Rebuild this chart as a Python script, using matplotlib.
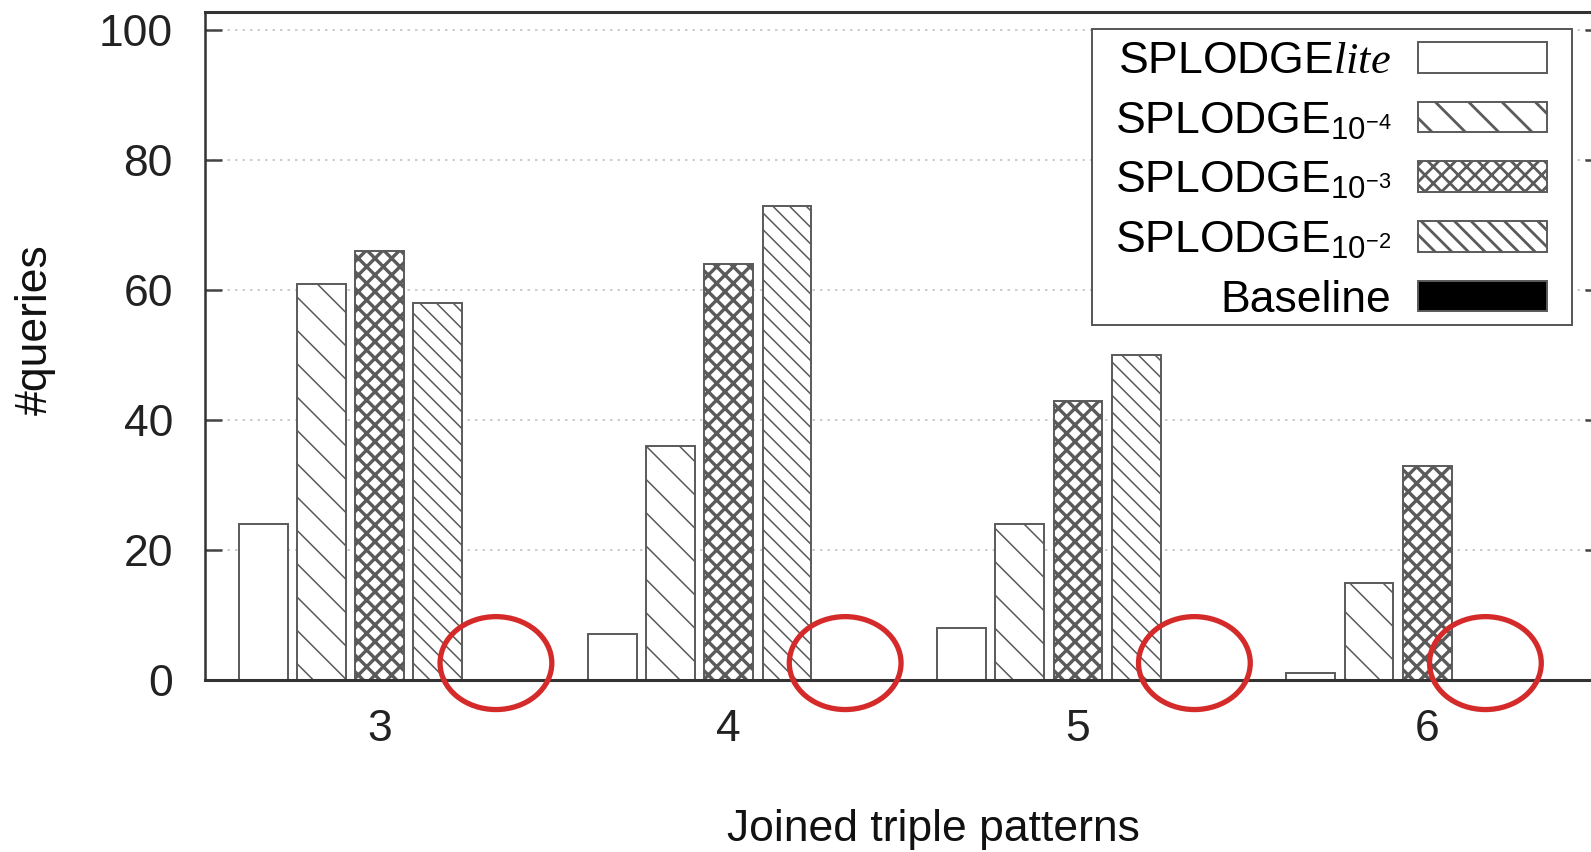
import numpy as np
import matplotlib
matplotlib.use("Agg")
import matplotlib.pyplot as plt
from matplotlib.patches import Ellipse, Rectangle

# ---- data ----
groups = [3, 4, 5, 6]                      # joined triple patterns
labels = ["SPLODGE$\\mathit{lite}$",
          "SPLODGE$_{10^{-4}}$",
          "SPLODGE$_{10^{-3}}$",
          "SPLODGE$_{10^{-2}}$",
          "Baseline"]
lite = [24, 7, 8, 1]
splodge_1e4 = [61, 36, 24, 15]
splodge_1e3 = [66, 64, 43, 33]
splodge_1e2 = [58, 73, 50, 0]
baseline = [0, 0, 0, 0]
circled = [4, 4, 4, 3]                     # series slot marked with a red ring per group
yticks = [0, 20, 40, 60, 80, 100]

series = [lite, splodge_1e4, splodge_1e3, splodge_1e2, baseline]
hatches = ["", "\\\\", "xxxx", "\\\\\\\\", ""]
faces = ["white", "white", "white", "white", "black"]
hatch_lw = [0.5, 0.55, 1.2, 0.55, 0.5]

plt.rcParams["font.family"] = ["Liberation Sans", "DejaVu Sans"]
plt.rcParams["mathtext.fontset"] = "custom"
plt.rcParams["mathtext.rm"] = "Liberation Sans"
plt.rcParams["mathtext.it"] = "Liberation Serif:italic"
plt.rcParams["mathtext.bf"] = "Liberation Sans:bold"
FS = 16
W, H = 1591, 852                           # output size in pixels

# dpi 200 so the hatch patterns come out as coarse as gnuplot's
fig = plt.figure(figsize=(W / 200, H / 200), dpi=200)
ax = fig.add_axes([0.1288, 0.2019, 0.878, 0.784])

nser = len(series)
slot = 1.0 / (nser + 1)
offsets = [(i - (nser - 1) / 2) * slot for i in range(nser)]
x = np.array(groups, float)

conts = []
for i, vals in enumerate(series):
    c = ax.bar(x + offsets[i], vals, width=0.84 * slot, color=faces[i],
               edgecolor="#5a5a5a", linewidth=0.7, hatch=hatches[i], zorder=2)
    for p in c:
        if hasattr(p, "set_hatch_linewidth"):
            p.set_hatch_linewidth(hatch_lw[i])
    conts.append(c)

# red rings around the missing baseline bars
for g, si in zip(groups, circled):
    ax.add_patch(Ellipse((g + offsets[si], 2.6), 0.32, 14.3, fill=False,
                         ec="#d42a2a", lw=1.9, clip_on=False, zorder=5))

ax.set_xlim(2.5, 6.5)
ax.set_ylim(0, 102.8)
ax.set_xticks(groups)
ax.set_xticklabels([str(g) for g in groups])
ax.set_yticks(yticks)
ax.set_axisbelow(True)
ax.yaxis.grid(True, linestyle=(0, (1.5, 3.0)), color="#c4c4c4", lw=0.6)

for s in ax.spines.values():
    s.set_color("#333333")
ax.spines["left"].set_linewidth(0.9)
ax.spines["right"].set_linewidth(0.9)
ax.spines["top"].set_linewidth(1.1)
ax.spines["bottom"].set_linewidth(1.1)

ax.tick_params(axis="y", direction="in", length=6.1, width=0.9, color="#444444",
               left=True, right=True, labelsize=FS, pad=11.5, labelcolor="#222222")
ax.tick_params(axis="x", length=0, pad=10.5, labelsize=FS, labelcolor="#222222")

fig.text(933 / W, 1 - 830 / H, "Joined triple patterns", ha="center",
         va="center", fontsize=FS, color="#111111")
fig.text(35 / W, 1 - 330 / H, "#queries", ha="center", va="center",
         rotation=90, fontsize=FS, color="#111111")

# legend box (gnuplot style: text right-aligned, sample to the right)
ax.add_patch(Rectangle((1092 / W, 1 - 325 / H), 480 / W, 296 / H,
                       transform=fig.transFigure, facecolor="white",
                       edgecolor="#555555", lw=0.7, clip_on=False, zorder=5.5))
leg = ax.legend(conts, labels, loc="upper right",
                bbox_to_anchor=(1547 / W, 1 - 41 / H),
                bbox_transform=fig.transFigure, markerfirst=False,
                frameon=False, handlelength=2.9, handleheight=0.68,
                handletextpad=0.6, borderpad=0, labelspacing=0.42,
                borderaxespad=0, fontsize=FS)
leg.set_zorder(6)

fig.savefig("out.png", dpi=200)
